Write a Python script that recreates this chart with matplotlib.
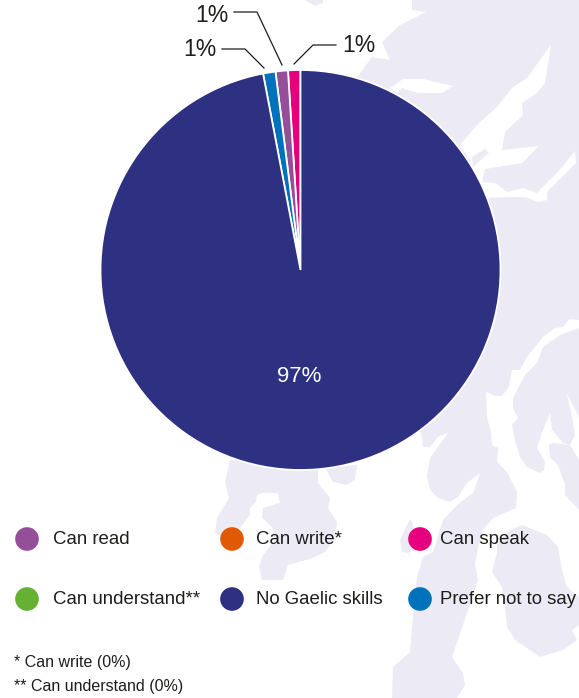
import matplotlib
matplotlib.use("Agg")
import matplotlib.pyplot as plt
from matplotlib.patches import Polygon

plt.rcParams['font.family'] = ['Liberation Sans', 'DejaVu Sans']

W, H = 579, 698

# pie slices, counterclockwise from twelve o'clock
slice_names = ["Can speak", "Can read", "Prefer not to say", "No Gaelic skills"]
slice_values = [1, 1, 1, 97]
slice_colors = ["#E6007E", "#954F9A", "#0072BC", "#2E3082"]

legend_names = ["Can read", "Can write*", "Can speak",
                "Can understand**", "No Gaelic skills", "Prefer not to say"]
legend_colors = ["#954F9A", "#E05A06", "#E6007E",
                 "#66B132", "#2E3082", "#0072BC"]
legend_dot_x = [27, 232, 420, 27, 232, 420]
legend_text_x = [53, 256, 440, 53, 256, 440]
legend_y = [539, 539, 539, 599, 599, 599]

footnotes = ["* Can write (0%)", "** Can understand (0%)"]

LAND = "#ECEBF5"
INK = "#1d1d1b"

# background map, outlines in picture pixels
main_land = [(412, 0), (412, 10), (426, 12), (400, 25), (382, 42), (390, 60), (372, 57),
             (340, 100), (340, 300), (579, 320), (579, 0)]
land_a = [(579, 300), (579, 307), (563, 327), (555, 328), (543, 337), (527, 357), (520, 370),
          (512, 370), (509, 387), (502, 396), (495, 396), (486, 392), (487, 417),
          (491, 433), (492, 445), (498, 448), (497, 462), (507, 472), (517, 492),
          (516, 508), (493, 518), (483, 530), (477, 553), (475, 565), (478, 580),
          (467, 613), (452, 657), (463, 673), (465, 685), (457, 698), (392, 698),
          (393, 667), (410, 652), (412, 627), (417, 577), (423, 557), (433, 552),
          (443, 520), (457, 505), (473, 493), (480, 473), (467, 483), (458, 497),
          (450, 502), (438, 498), (430, 490), (427, 477), (430, 458), (448, 433),
          (438, 437), (430, 447), (423, 447), (421, 433), (380, 400), (340, 250)]
land_c = [(579, 328), (560, 335), (543, 347), (537, 363), (525, 375), (513, 398),
          (513, 408), (518, 418), (512, 425), (515, 440), (520, 457), (527, 467),
          (540, 473), (544, 470), (545, 462), (537, 448), (543, 430), (550, 413),
          (552, 430), (563, 443), (570, 445), (575, 435), (572, 417), (567, 394),
          (579, 417), (579, 328)]
land_d = [(553, 443), (549, 445), (550, 457), (558, 465), (565, 485), (565, 495),
          (579, 510), (579, 460), (570, 445)]
land_e = [(522, 525), (547, 535), (558, 547), (562, 570), (567, 587), (579, 597),
          (579, 625), (572, 630), (577, 640), (563, 650), (540, 657), (515, 640),
          (507, 627), (505, 607), (502, 587), (492, 572), (497, 553), (497, 543), (510, 530)]
islet = [(410, 519), (400, 540), (402, 552), (408, 553), (417, 548), (413, 523)]
land_f = [(230, 460), (225, 482), (229, 498), (217, 518), (215, 533), (223, 537),
          (240, 528), (250, 515), (250, 508), (256, 502), (257, 495), (263, 493),
          (278, 493), (280, 503), (263, 508), (262, 518), (272, 527), (275, 540),
          (263, 555), (259, 567), (262, 580), (283, 580), (288, 565), (313, 558),
          (325, 552), (336, 537), (337, 522), (328, 508), (330, 498), (318, 483),
          (318, 460)]
land_g = [(325, 468), (333, 482), (347, 485), (355, 480), (357, 465)]
top_blob = [(305, 0), (315, 6), (323, 3), (323, 0)]

# white sea lochs cut out of the land, top right
inlet_1 = [(390, 88), (403, 79), (423, 79), (453, 86), (442, 93), (418, 93), (402, 88), (397, 93)]
inlet_2 = [(551, 45), (545, 83), (537, 93), (522, 103), (523, 115), (505, 132), (502, 150),
           (539, 146), (522, 163), (485, 169), (482, 182), (495, 183), (507, 192), (523, 188),
           (537, 193), (558, 172), (575, 151), (576, 163), (547, 192), (547, 200), (538, 202),
           (525, 197), (507, 197), (488, 198), (470, 160), (460, 145), (477, 125), (497, 107),
           (512, 88), (527, 78)]
islet_2 = [(489, 153), (473, 167), (472, 157), (485, 149)]

fig = plt.figure(figsize=(W / 100, H / 100), dpi=100)

bg = fig.add_axes([0, 0, 1, 1])
bg.set_xlim(0, W)
bg.set_ylim(H, 0)
bg.axis("off")

for shape in [main_land, land_a, land_c, land_d, land_e, islet, land_f, land_g, top_blob]:
    bg.add_patch(Polygon(shape, closed=True, fc=LAND, ec="none"))
for shape in [inlet_1, inlet_2]:
    bg.add_patch(Polygon(shape, closed=True, fc="white", ec="none"))
bg.add_patch(Polygon(islet_2, closed=True, fc=LAND, ec="none"))

# leader lines for the small slices
bg.plot([294, 313, 336], [64, 45, 45], color=INK, lw=0.9)
bg.plot([282, 257, 234], [65, 12, 12], color=INK, lw=0.9)
bg.plot([264, 245, 222], [68, 49, 49], color=INK, lw=0.9)
bg.text(342, 45, "1%", fontsize=16.5, color=INK, va="center")
bg.text(195, 16, "1%", fontsize=16.5, color=INK, va="center")
bg.text(183, 49.5, "1%", fontsize=16.5, color=INK, va="center")

# legend
bg.scatter(legend_dot_x, legend_y, s=290, c=legend_colors, linewidths=0)
for name, x, y in zip(legend_names, legend_text_x, legend_y):
    bg.text(x, y + 1, name, fontsize=13.4, color=INK, va="center")

bg.text(14, 662, footnotes[0], fontsize=11.5, color=INK, va="center")
bg.text(14, 686, footnotes[1], fontsize=11.5, color=INK, va="center")

# pie sits in a 400 px box around its centre
ax = fig.add_axes([100.5 / W, (H - 470) / H, 400 / W, 400 / H])
ax.patch.set_alpha(0)
wedges, _ = ax.pie(slice_values, colors=slice_colors, startangle=90, counterclock=True,
                   wedgeprops={"edgecolor": "white", "linewidth": 1.3})
ax.set_xlim(-1, 1)
ax.set_ylim(-1, 1)
for w in wedges:
    w.set_clip_on(False)
ax.text(-0.005, -0.535, "97%", color="white", fontsize=16, ha="center", va="center")

fig.savefig("out.png", dpi=100)
